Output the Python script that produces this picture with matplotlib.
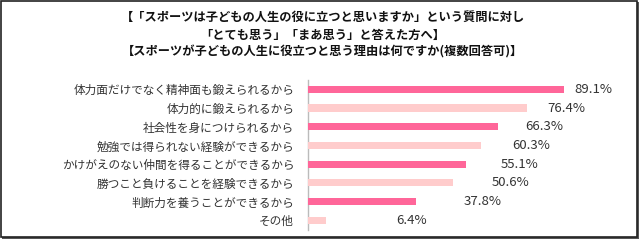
import matplotlib
matplotlib.use("Agg")
import matplotlib.pyplot as plt
from matplotlib.patches import Rectangle

plt.rcParams['font.family'] = ['Noto Sans CJK JP', 'DejaVu Sans']

categories = [
    "体力面だけでなく精神面も鍛えられるから",
    "体力的に鍛えられるから",
    "社会性を身につけられるから",
    "勉強では得られない経験ができるから",
    "かけがえのない仲間を得ることができるから",
    "勝つこと負けることを経験できるから",
    "判断力を養うことができるから",
    "その他",
]
values = [89.1, 76.4, 66.3, 60.3, 55.1, 50.6, 37.8, 6.4]
value_labels = ["89.1%", "76.4%", "66.3%", "60.3%", "55.1%", "50.6%", "37.8%", "6.4%"]
title_lines = [
    "【「スポーツは子どもの人生の役に立つと思いますか」という質問に対し",
    "「とても思う」「まあ思う」と答えた方へ】",
    "【スポーツが子どもの人生に役立つと思う理由は何ですか(複数回答可)】",
]

W, H = 640, 240
fig = plt.figure(figsize=(6.4, 2.4), dpi=100)

# frame with shadow
fig.patches.append(Rectangle((2 / W, 1 - 239 / H), 637 / W, 237 / H, transform=fig.transFigure,
                             facecolor="#555555", edgecolor="none", zorder=-3))
fig.patches.append(Rectangle((0.5 / W, 1 - 236.5 / H), 636.5 / W, 236 / H, transform=fig.transFigure,
                             facecolor="white", edgecolor="#222222", linewidth=1.2, zorder=-2))

ax = fig.add_axes([308 / W, 1 - 229.6 / H, 287 / W, 149.6 / H])
ax.set_facecolor("none")
pos = list(range(len(values)))
colors = ["#FF6699" if i % 2 == 0 else "#FFCCCC" for i in pos]
ax.barh(pos, values, height=0.38, color=colors, zorder=3)
ax.set_xlim(0, 100)
ax.set_ylim(len(values) - 0.5, -0.5)
ax.set_yticks(pos)
ax.set_yticklabels(categories, fontsize=8.4, color="#333333")
ax.tick_params(axis="y", length=0, pad=10)
ax.set_xticks([])
for s in ["top", "right", "bottom"]:
    ax.spines[s].set_visible(False)
ax.spines["left"].set_color("#BBBBBB")
ax.spines["left"].set_linewidth(1.0)

for p, v, lab in zip(pos, values, value_labels):
    ax.text(25.8 + 0.753 * v, p, lab, va="center", ha="left", fontsize=9.5, color="#333333")

ys = [17, 35, 52]
for y, t in zip(ys, title_lines):
    fig.text(323 / W, 1 - y / H, t, ha="center", va="center", fontsize=8.8,
             fontweight="bold", color="#111111")

fig.savefig("out.png", dpi=100)
